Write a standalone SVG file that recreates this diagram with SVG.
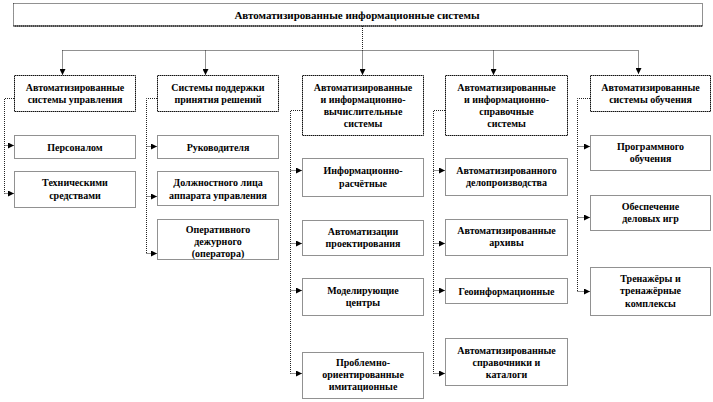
<svg xmlns="http://www.w3.org/2000/svg" width="713" height="402" viewBox="0 0 713 402">
<style>
  .box { fill: #ffffff; stroke: #222; stroke-width: 1; stroke-dasharray: 1 1; }
  .main { fill: #ffffff; stroke: #111; stroke-width: 1; stroke-dasharray: 1.5 0.5; }
  .t { font-family: "Liberation Serif", "DejaVu Serif", serif; font-weight: bold; font-size: 10px; fill: #000; text-anchor: middle; }
  .title { font-size: 11px; }
  .c { fill: none; stroke: #222; stroke-width: 1; stroke-dasharray: 1 1; }
</style>
<defs>
  <marker id="ah" markerUnits="userSpaceOnUse" markerWidth="6" markerHeight="6" refX="6" refY="3" orient="auto">
    <path d="M0,0 L6,3 L0,6 z" fill="#000"/>
  </marker>
</defs>
<rect width="713" height="402" fill="#ffffff"/>

<g id="connectors">
  <path class="c" d="M362.5,26 V50.5"/>
  <path class="c" d="M62.5,50.5 H638.5"/>
  <path class="c" d="M62.5,50.5 V75" marker-end="url(#ah)"/>
  <path class="c" d="M205.5,50.5 V75" marker-end="url(#ah)"/>
  <path class="c" d="M362.5,50.5 V75" marker-end="url(#ah)"/>
  <path class="c" d="M493.5,50.5 V75" marker-end="url(#ah)"/>
  <path class="c" d="M638.5,50.5 V74" marker-end="url(#ah)"/>

  <path class="c" d="M14,98.5 H4.5 V193.5"/>
  <path class="c" d="M4.5,145.5 H14" marker-end="url(#ah)"/>
  <path class="c" d="M4.5,193.5 H14" marker-end="url(#ah)"/>

  <path class="c" d="M157,98.5 H146.5 V253.5"/>
  <path class="c" d="M146.5,146.5 H157" marker-end="url(#ah)"/>
  <path class="c" d="M146.5,196.5 H157" marker-end="url(#ah)"/>
  <path class="c" d="M146.5,253.5 H157" marker-end="url(#ah)"/>

  <path class="c" d="M302,110.5 H290.5 V373.5"/>
  <path class="c" d="M290.5,170.5 H302" marker-end="url(#ah)"/>
  <path class="c" d="M290.5,243.5 H302" marker-end="url(#ah)"/>
  <path class="c" d="M290.5,290.5 H302" marker-end="url(#ah)"/>
  <path class="c" d="M290.5,373.5 H302" marker-end="url(#ah)"/>

  <path class="c" d="M445,110.5 H433.5 V373.5"/>
  <path class="c" d="M433.5,170.5 H445" marker-end="url(#ah)"/>
  <path class="c" d="M433.5,243.5 H445" marker-end="url(#ah)"/>
  <path class="c" d="M433.5,290.5 H445" marker-end="url(#ah)"/>
  <path class="c" d="M433.5,373.5 H445" marker-end="url(#ah)"/>

  <path class="c" d="M590,98.5 H577.5 V291.5"/>
  <path class="c" d="M577.5,146.5 H590" marker-end="url(#ah)"/>
  <path class="c" d="M577.5,217.5 H590" marker-end="url(#ah)"/>
  <path class="c" d="M577.5,291.5 H590" marker-end="url(#ah)"/>
</g>

<g id="root">
  <rect class="box" x="13.5" y="3.5" width="689" height="22.5"/>
  <line x1="13.5" y1="26" x2="702.5" y2="26" stroke="#000" stroke-width="1"/>
  <text class="t title" x="357" y="18.5">Автоматизированные информационные системы</text>
</g>

<g id="asu">
  <rect class="main" x="14.5" y="75.5" width="121" height="36"/>
  <text class="t" x="75" y="90.5">Автоматизированные</text>
  <text class="t" x="75" y="102.5">системы управления</text>
</g>
<g id="asu-personal">
  <rect class="box" x="14.5" y="135.5" width="121" height="23"/>
  <text class="t" x="75" y="150.5">Персоналом</text>
</g>
<g id="asu-tech">
  <rect class="box" x="14.5" y="171.5" width="121" height="36"/>
  <text class="t" x="75" y="186">Техническими</text>
  <text class="t" x="75" y="198.5">средствами</text>
</g>

<g id="sppr">
  <rect class="main" x="157.5" y="75.5" width="121" height="36"/>
  <text class="t" x="218" y="90.5">Системы поддержки</text>
  <text class="t" x="218" y="102.5">принятия решений</text>
</g>
<g id="sppr-head">
  <rect class="box" x="157.5" y="135.5" width="121" height="23"/>
  <text class="t" x="218" y="150.5">Руководителя</text>
</g>
<g id="sppr-official">
  <rect class="box" x="157.5" y="171.5" width="121" height="34"/>
  <text class="t" x="218" y="185.5">Должностного лица</text>
  <text class="t" x="218" y="198.5">аппарата управления</text>
</g>
<g id="sppr-operator">
  <rect class="box" x="157.5" y="219.5" width="121" height="40"/>
  <text class="t" x="218" y="232.5">Оперативного</text>
  <text class="t" x="218" y="244.5">дежурного</text>
  <text class="t" x="218" y="256.5">(оператора)</text>
</g>

<g id="aivs">
  <rect class="main" x="302.5" y="75.5" width="121" height="60"/>
  <text class="t" x="363" y="90.5">Автоматизированные</text>
  <text class="t" x="363" y="102.5">и информационно-</text>
  <text class="t" x="363" y="114.5">вычислительные</text>
  <text class="t" x="363" y="126.5">системы</text>
</g>
<g id="aivs-calc">
  <rect class="box" x="302.5" y="158.5" width="121" height="38"/>
  <text class="t" x="363" y="174">Информационно-</text>
  <text class="t" x="363" y="186.5">расчётные</text>
</g>
<g id="aivs-cad">
  <rect class="box" x="302.5" y="220.5" width="121" height="35"/>
  <text class="t" x="363" y="234.5">Автоматизации</text>
  <text class="t" x="363" y="246.5">проектирования</text>
</g>
<g id="aivs-model">
  <rect class="box" x="302.5" y="278.5" width="121" height="37"/>
  <text class="t" x="363" y="293.5">Моделирующие</text>
  <text class="t" x="363" y="306">центры</text>
</g>
<g id="aivs-sim">
  <rect class="box" x="302.5" y="352.5" width="121" height="46"/>
  <text class="t" x="363" y="365.5">Проблемно-</text>
  <text class="t" x="363" y="377.5">ориентированные</text>
  <text class="t" x="363" y="389.5">имитационные</text>
</g>

<g id="aiss">
  <rect class="main" x="445.5" y="75.5" width="122" height="60"/>
  <text class="t" x="506.5" y="90.5">Автоматизированные</text>
  <text class="t" x="506.5" y="102.5">и информационно-</text>
  <text class="t" x="506.5" y="114.5">справочные</text>
  <text class="t" x="506.5" y="126.5">системы</text>
</g>
<g id="aiss-docs">
  <rect class="box" x="445.5" y="158.5" width="122" height="37"/>
  <text class="t" x="506.5" y="173.5">Автоматизированного</text>
  <text class="t" x="506.5" y="186">делопроизводства</text>
</g>
<g id="aiss-archive">
  <rect class="box" x="445.5" y="219.5" width="122" height="36"/>
  <text class="t" x="506.5" y="233.5">Автоматизированные</text>
  <text class="t" x="506.5" y="246">архивы</text>
</g>
<g id="aiss-geo">
  <rect class="box" x="445.5" y="278.5" width="122" height="25"/>
  <text class="t" x="506.5" y="294.5">Геоинформационные</text>
</g>
<g id="aiss-catalog">
  <rect class="box" x="445.5" y="338.5" width="122" height="47"/>
  <text class="t" x="506.5" y="353.5">Автоматизированные</text>
  <text class="t" x="506.5" y="365.5">справочники и</text>
  <text class="t" x="506.5" y="377.5">каталоги</text>
</g>

<g id="aso">
  <rect class="main" x="590.5" y="75.5" width="120" height="36"/>
  <text class="t" x="650.5" y="90.5">Автоматизированные</text>
  <text class="t" x="650.5" y="102.5">системы обучения</text>
</g>
<g id="aso-program">
  <rect class="box" x="590.5" y="135.5" width="120" height="35"/>
  <text class="t" x="650.5" y="149.5">Программного</text>
  <text class="t" x="650.5" y="162">обучения</text>
</g>
<g id="aso-games">
  <rect class="box" x="590.5" y="195.5" width="120" height="35"/>
  <text class="t" x="650.5" y="209.5">Обеспечение</text>
  <text class="t" x="650.5" y="221.5">деловых игр</text>
</g>
<g id="aso-sim">
  <rect class="box" x="590.5" y="267.5" width="120" height="48"/>
  <text class="t" x="650.5" y="281.5">Тренажёры и</text>
  <text class="t" x="650.5" y="294">тренажёрные</text>
  <text class="t" x="650.5" y="306.5">комплексы</text>
</g>
</svg>
